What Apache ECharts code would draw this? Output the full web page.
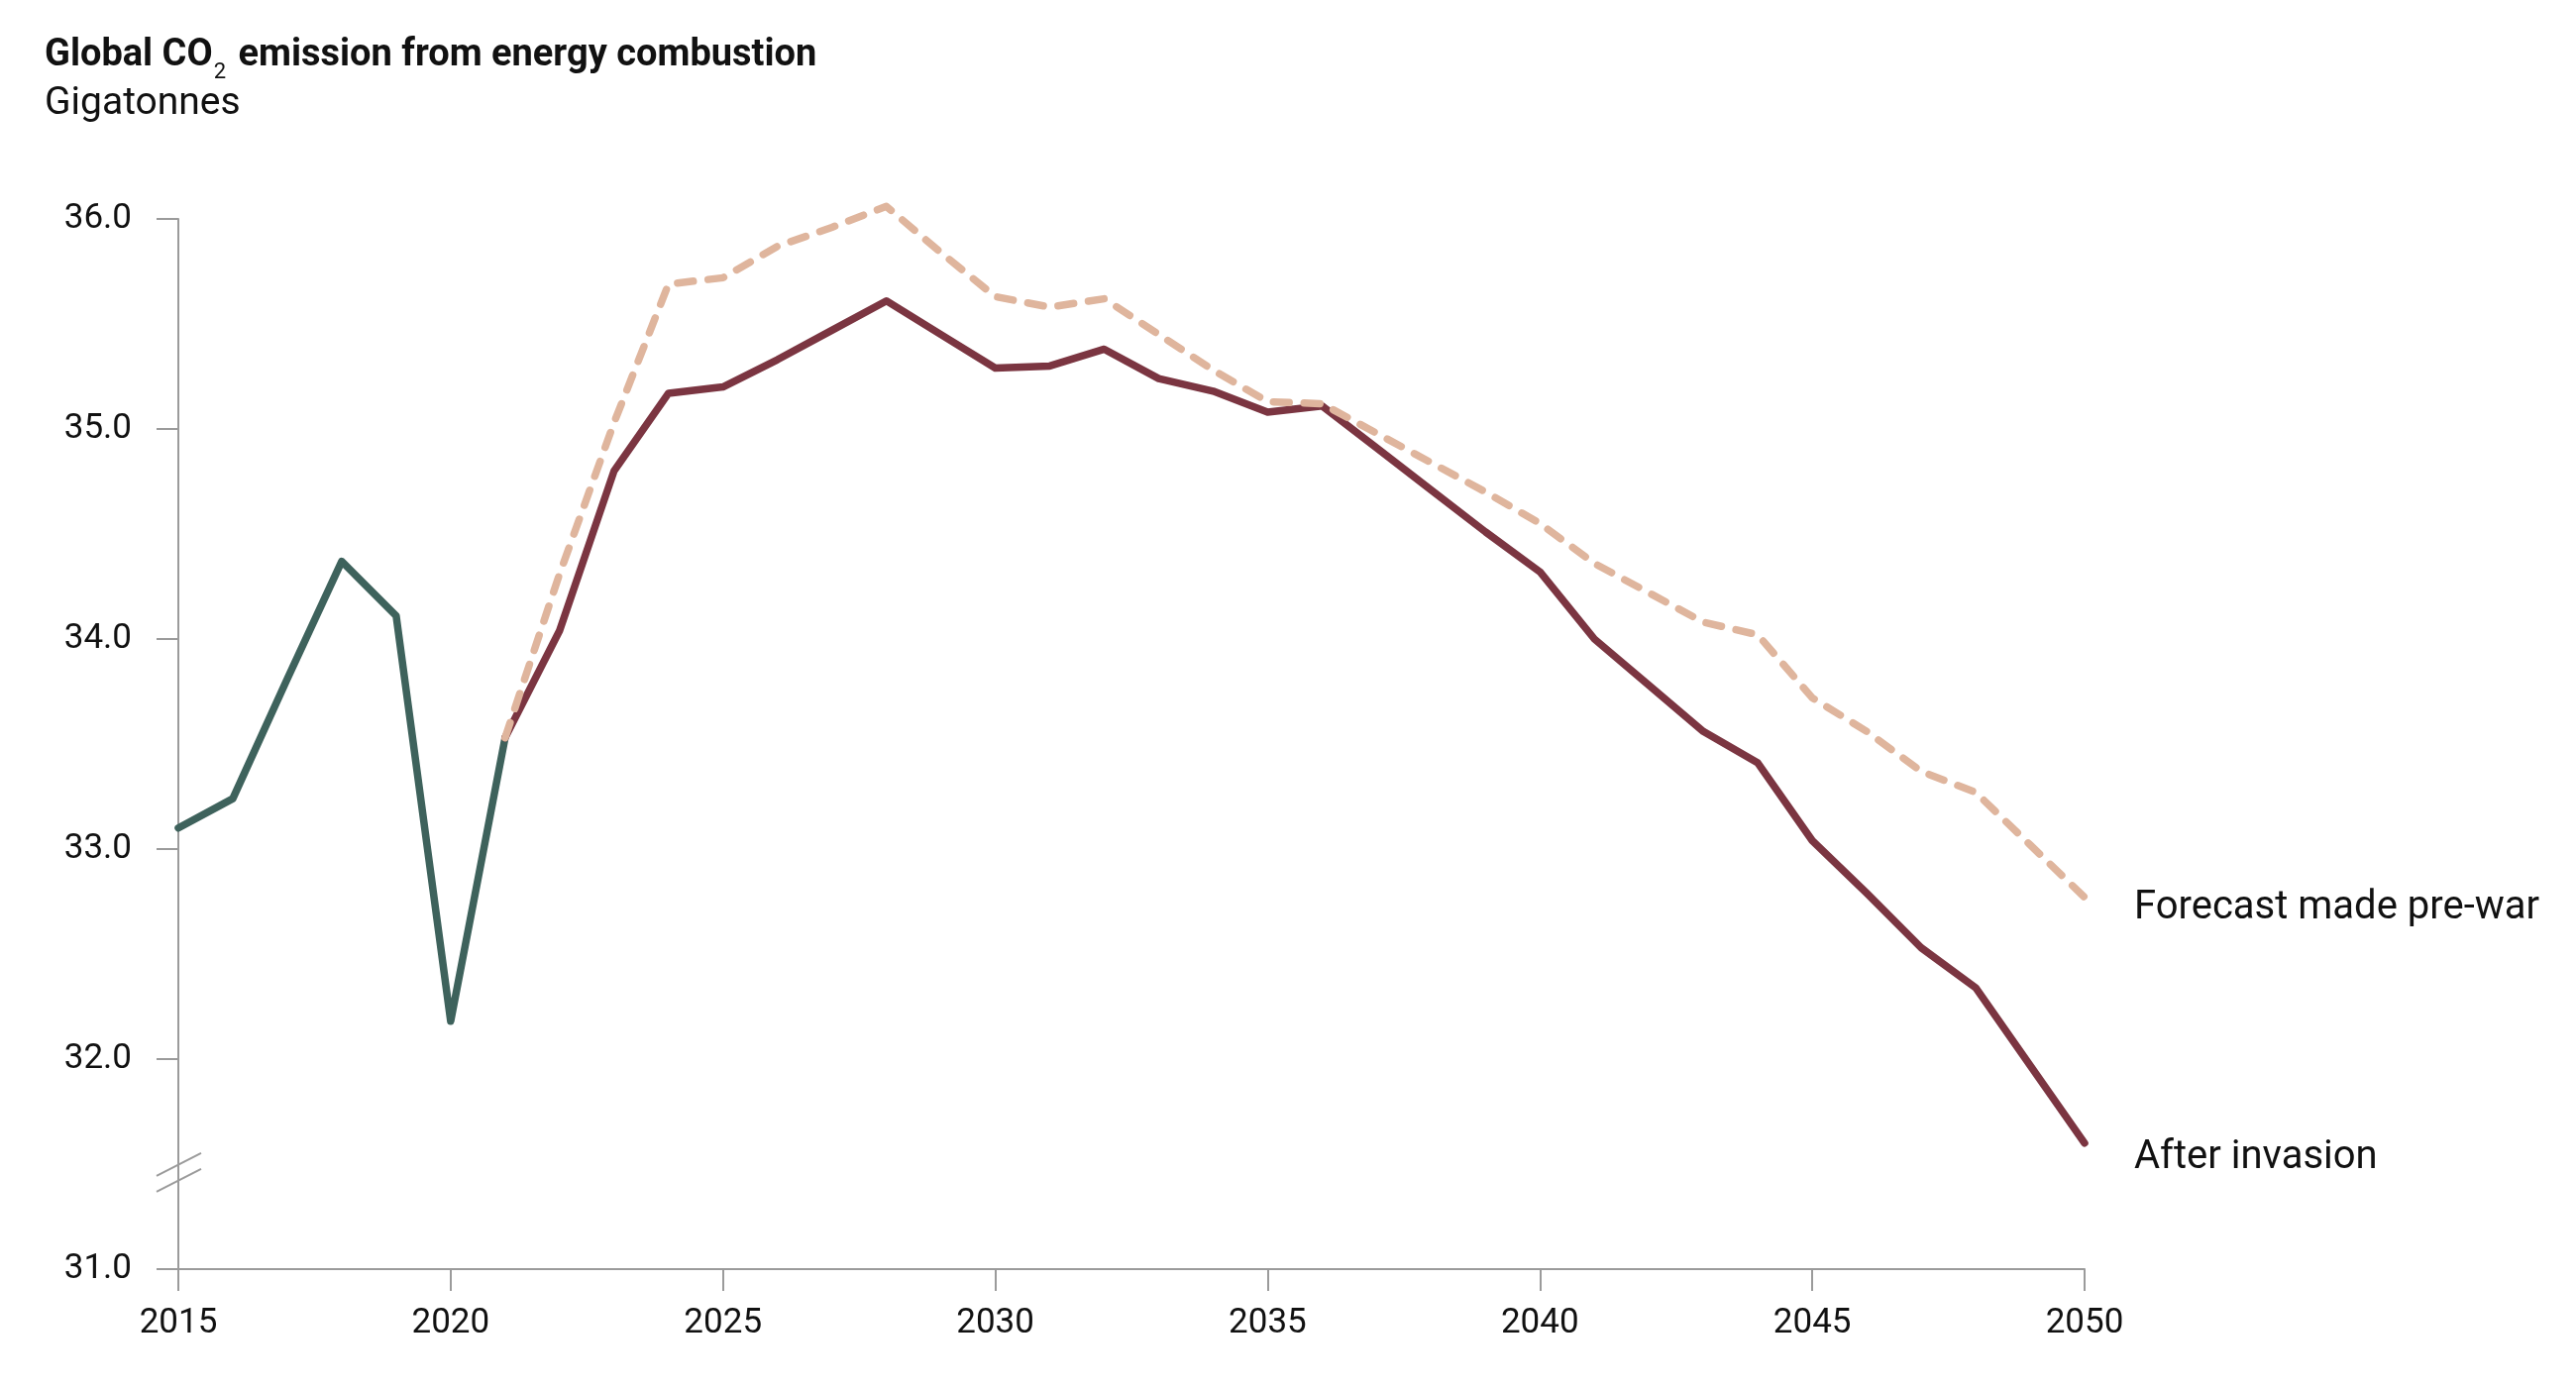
<!DOCTYPE html>
<html>
<head>
<meta charset="utf-8">
<script src="https://cdn.jsdelivr.net/npm/echarts@6/dist/echarts.min.js"></script>
<style>
html,body{margin:0;padding:0;background:#fff;}
#chart{width:2600px;height:1402px;}
</style>
</head>
<body>
<div id="chart"></div>
<script>
// ---- data ----
var historicYears = [2015, 2016, 2017, 2018, 2019, 2020, 2021];
var historicValues = [33.10, 33.24, 33.81, 34.37, 34.11, 32.18, 33.53];

var forecastYears = [2021, 2022, 2023, 2024, 2025, 2026, 2027, 2028, 2029, 2030,
  2031, 2032, 2033, 2034, 2035, 2036, 2037, 2038, 2039, 2040,
  2041, 2042, 2043, 2044, 2045, 2046, 2047, 2048, 2049, 2050];
var afterInvasionValues = [33.53, 34.04, 34.80, 35.17, 35.20, 35.33, 35.47, 35.61, 35.45, 35.29,
  35.30, 35.38, 35.24, 35.18, 35.08, 35.11, 34.91, 34.71, 34.51, 34.32,
  34.00, 33.78, 33.56, 33.41, 33.04, 32.79, 32.53, 32.34, 31.97, 31.60];
var preWarValues = [33.53, 34.31, 35.03, 35.69, 35.72, 35.87, 35.96, 36.06, 35.84, 35.63,
  35.58, 35.62, 35.45, 35.28, 35.13, 35.12, 34.98, 34.84, 34.70, 34.55,
  34.36, 34.22, 34.08, 34.02, 33.72, 33.56, 33.37, 33.27, 33.02, 32.77];

var xTicks = [2015, 2020, 2025, 2030, 2035, 2040, 2045, 2050];
var yTicks = [31, 32, 33, 34, 35, 36];
var titleMain = 'Global CO';
var titleSub = '2';
var titleRest = ' emission from energy combustion';
var subtitleText = 'Gigatonnes';
var labelPreWar = 'Forecast made pre-war';
var labelAfter = 'After invasion';
var breakValue = 31.42;

function pairs(xs, ys) { return xs.map(function (x, i) { return [x, ys[i]]; }); }

var FONT = 'Roboto, "Noto Sans", sans-serif';
var AXIS = '#9b9b9b';
var chart = echarts.init(document.getElementById('chart'), null, {renderer: 'canvas'});

var option = {
  backgroundColor: '#ffffff',
  animation: false,
  title: [{
    left: 40, top: 24,
    text: '{b|' + titleMain + '}{s|' + titleSub + '}{b|' + titleRest + '}',
    textStyle: {
      rich: {
        b: {fontFamily: FONT, fontSize: 38, fontWeight: 'bold', color: '#111', lineHeight: 46, verticalAlign: 'bottom'},
        s: {fontFamily: FONT, fontSize: 22, fontWeight: 'normal', color: '#111', lineHeight: 46, verticalAlign: 'bottom', padding: [0, 3, -9, 1]}
      }
    }
  }, {
    left: 40, top: 81,
    text: subtitleText,
    textStyle: {fontFamily: FONT, fontSize: 39, fontWeight: 'normal', color: '#111'}
  }],
  grid: {left: 180, right: 496, top: 221, bottom: 121, containLabel: false},
  xAxis: {
    type: 'value', min: 2015, max: 2050, interval: 5,
    axisLine: {show: true, lineStyle: {color: AXIS, width: 2}},
    axisTick: {show: true, length: 22, lineStyle: {color: AXIS, width: 2}},
    splitLine: {show: false},
    axisLabel: {
      margin: 38, fontFamily: FONT, fontSize: 35, color: '#111',
      formatter: function (v) { return xTicks.indexOf(v) >= 0 ? String(v) : ''; }
    }
  },
  yAxis: {
    type: 'value', min: 31, max: 36, interval: 1,
    axisLine: {show: true, lineStyle: {color: AXIS, width: 2}},
    axisTick: {show: true, length: 22, lineStyle: {color: AXIS, width: 2}},
    splitLine: {show: false},
    axisLabel: {
      margin: 47, fontFamily: FONT, fontSize: 35, color: '#111',
      formatter: function (v) { return yTicks.indexOf(v) >= 0 ? v.toFixed(1) : ''; }
    }
  },
  series: [{
    name: 'Historic', type: 'line', data: pairs(historicYears, historicValues),
    showSymbol: false, symbol: 'none', z: 3, clip: false,
    lineStyle: {color: '#3e625c', width: 7.5, join: 'round', cap: 'round'}
  }, {
    name: labelAfter, type: 'line', data: pairs(forecastYears, afterInvasionValues),
    showSymbol: false, symbol: 'none', z: 4, clip: false,
    lineStyle: {color: '#7b3541', width: 7.5, join: 'round', cap: 'round'},
    endLabel: {show: true, formatter: labelAfter, distance: 50, offset: [0, 15],
      fontFamily: FONT, fontSize: 40, color: '#111'}
  }, {
    name: labelPreWar, type: 'line', data: pairs(forecastYears, preWarValues),
    showSymbol: false, symbol: 'none', z: 5, clip: false,
    lineStyle: {color: '#dfb59d', width: 7.5, type: [16, 15], cap: 'round', join: 'round'},
    endLabel: {show: true, formatter: labelPreWar, distance: 50, offset: [0, 11],
      fontFamily: FONT, fontSize: 40, color: '#111'}
  }]
};
chart.setOption(option);

// axis break mark on the y axis, positioned through the chart's own scale
var p = chart.convertToPixel({gridIndex: 0}, [2015, breakValue]);
var top = chart.convertToPixel({gridIndex: 0}, [2015, 31.53]);
var bot = chart.convertToPixel({gridIndex: 0}, [2015, 31.29]);
chart.setOption({
  graphic: [{
    type: 'rect', z: 100,
    shape: {x: p[0] - 6, y: top[1], width: 12, height: bot[1] - top[1]},
    style: {fill: '#ffffff'}
  }, {
    type: 'line', z: 101,
    shape: {x1: p[0] - 22, y1: p[1] - 5, x2: p[0] + 23, y2: p[1] - 28},
    style: {stroke: AXIS, lineWidth: 2}
  }, {
    type: 'line', z: 101,
    shape: {x1: p[0] - 22, y1: p[1] + 11, x2: p[0] + 23, y2: p[1] - 12},
    style: {stroke: AXIS, lineWidth: 2}
  }]
});
</script>
</body>
</html>
